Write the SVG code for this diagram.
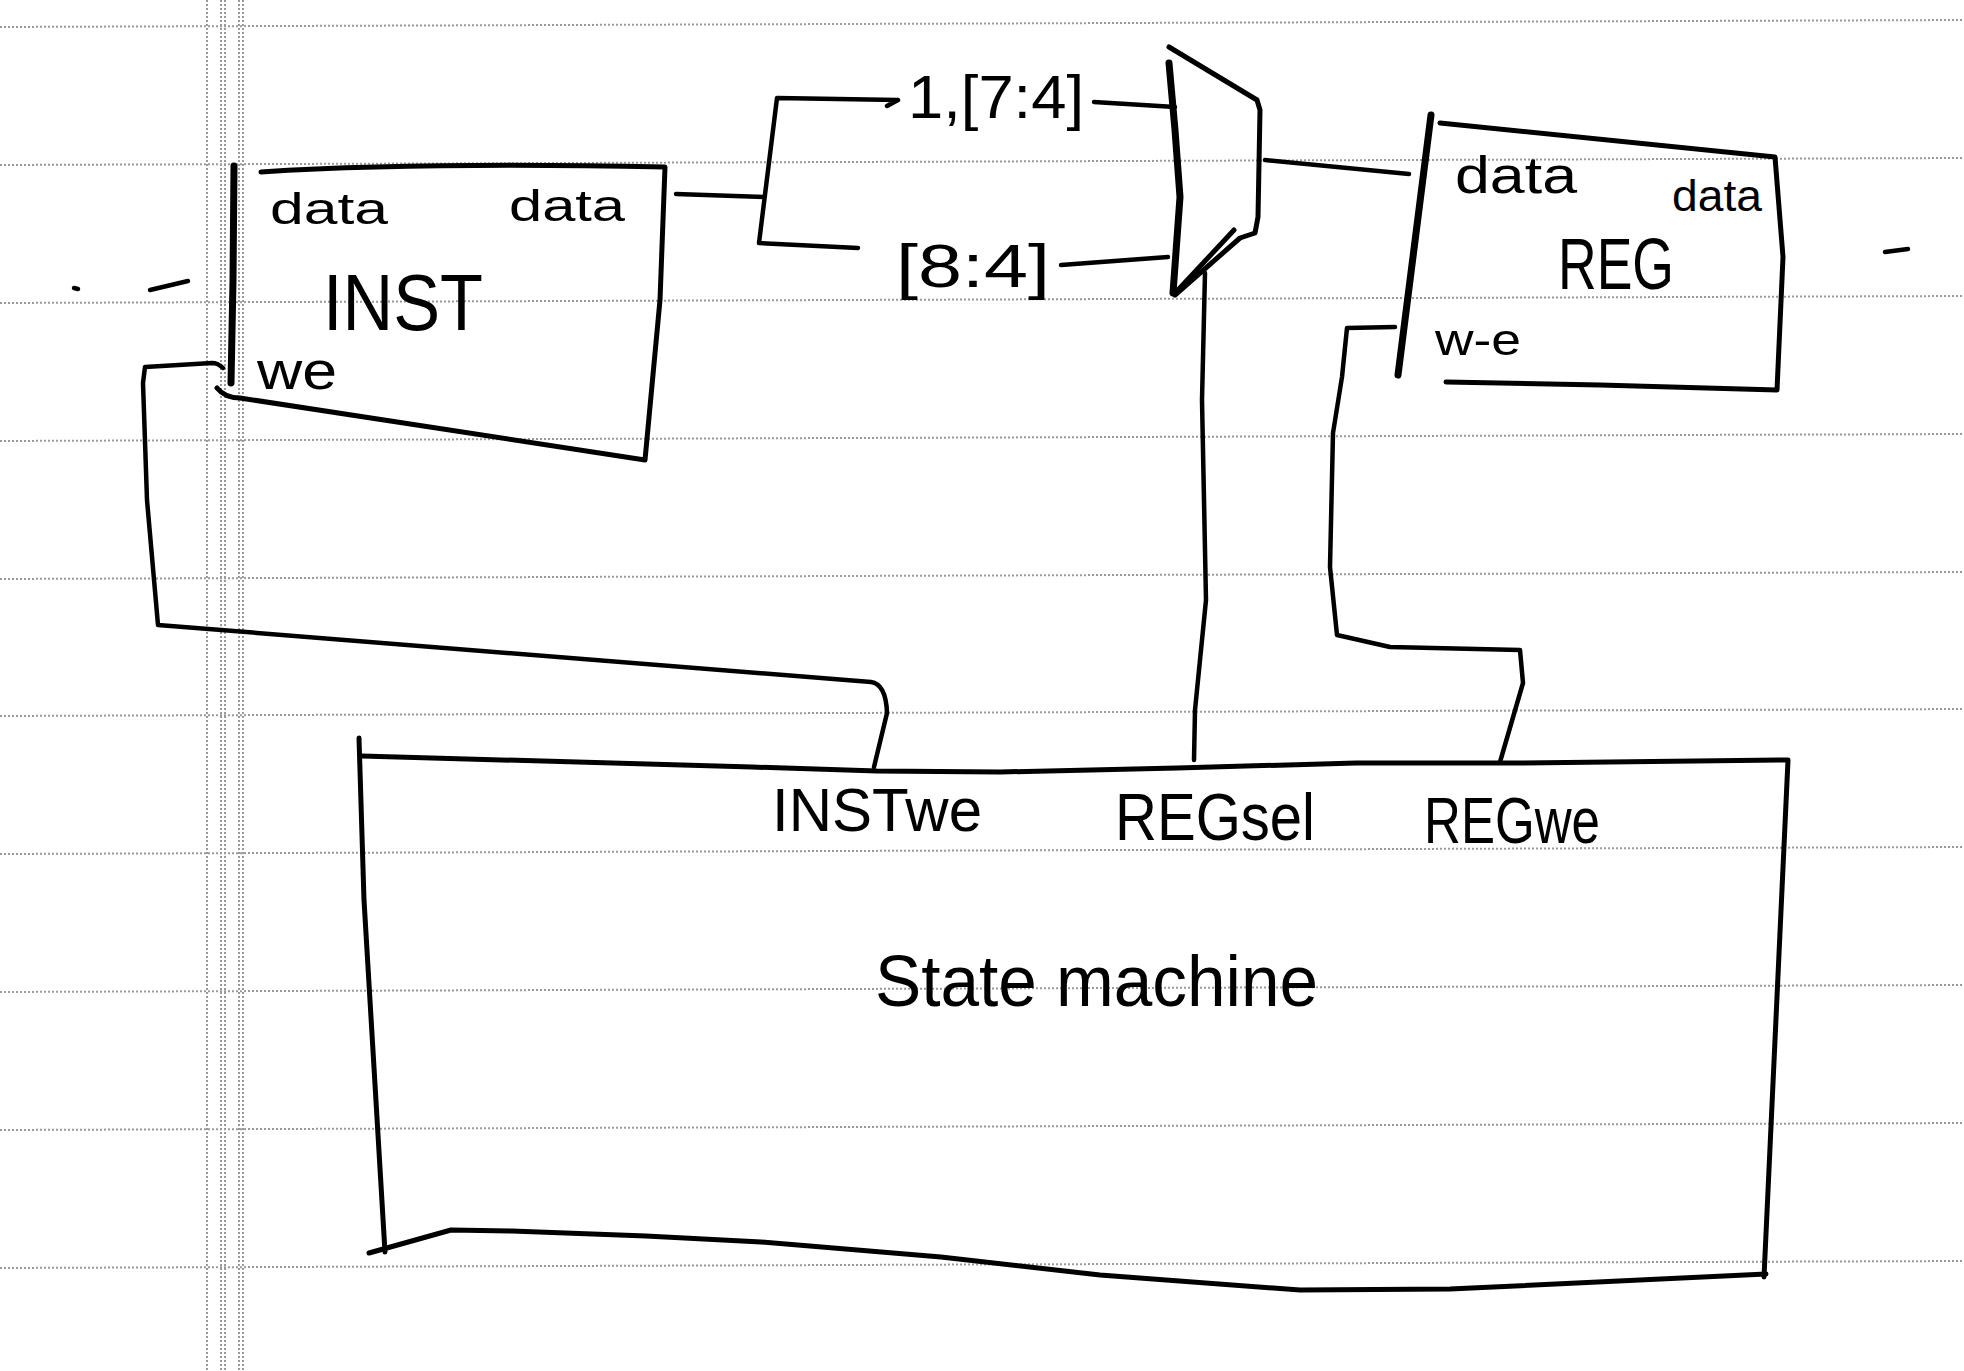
<svg xmlns="http://www.w3.org/2000/svg" width="1964" height="1371" viewBox="0 0 1964 1371">
  <style>
    .rule { stroke: #9a9a9a; stroke-width: 2; stroke-dasharray: 2 2; fill: none; }
    .ink { stroke: #000; stroke-width: 5; fill: none; stroke-linecap: round; stroke-linejoin: round; }
    .thick { stroke-width: 7; }
    .wire { stroke: #000; stroke-width: 4.5; fill: none; stroke-linecap: round; stroke-linejoin: round; }
    .hand { font-family: "Liberation Sans", "DejaVu Sans", sans-serif; fill: #000; }
  </style>
  <rect width="1964" height="1371" fill="#fff"/>

  <g id="paper">
    <line class="rule" x1="0" y1="27" x2="1964" y2="20"/>
    <line class="rule" x1="0" y1="165" x2="1964" y2="158"/>
    <line class="rule" x1="0" y1="303" x2="1964" y2="296"/>
    <line class="rule" x1="0" y1="441" x2="1964" y2="434"/>
    <line class="rule" x1="0" y1="579" x2="1964" y2="572"/>
    <line class="rule" x1="0" y1="716" x2="1964" y2="709"/>
    <line class="rule" x1="0" y1="854" x2="1964" y2="847"/>
    <line class="rule" x1="0" y1="992" x2="1964" y2="985"/>
    <line class="rule" x1="0" y1="1130" x2="1964" y2="1123"/>
    <line class="rule" x1="0" y1="1268" x2="1964" y2="1261"/>
    <line class="rule" x1="207" y1="0" x2="207" y2="1371"/>
    <line class="rule" x1="221" y1="0" x2="221" y2="1371"/>
    <line class="rule" x1="225" y1="0" x2="225" y2="1371"/>
    <line class="rule" x1="239" y1="0" x2="239" y2="1371"/>
    <line class="rule" x1="243" y1="0" x2="243" y2="1371"/>
    <path class="wire" d="M74,288 L78,289"/>
    <path class="wire" d="M150,290 L188,281"/>
    <path class="wire" d="M1885,252 L1908,249"/>
  </g>

  <g id="inst">
    <path class="ink thick" d="M234,166 L233,280 L231,383"/>
    <path class="ink" d="M261,172 Q420,162 665,167 L660,300 L645,460 L240,398 Q225,398 217,388"/>
    <text class="hand" x="270" y="224" font-size="44" textLength="118" lengthAdjust="spacingAndGlyphs">data</text>
    <text class="hand" x="509" y="221" font-size="44" textLength="116" lengthAdjust="spacingAndGlyphs">data</text>
    <text class="hand" x="323" y="330" font-size="80" textLength="160" lengthAdjust="spacingAndGlyphs">INST</text>
    <text class="hand" x="257" y="389" font-size="54" textLength="80" lengthAdjust="spacingAndGlyphs">we</text>
  </g>

  <g id="mux">
    <path class="ink thick" d="M1169,63 L1175,130 L1180,197 L1173,293"/>
    <path class="ink" d="M1169,47 L1257,100 L1260,110 L1258,217 L1255,233 L1240,238 L1175,295"/>
    <path class="ink" d="M1234,230 L1178,290" stroke-width="9"/>
  </g>

  <g id="reg">
    <path class="ink thick" d="M1431,115 L1398,375"/>
    <path class="ink" d="M1440,123 L1775,157 L1783,257 L1777,390 L1600,385 L1446,382"/>
    <text class="hand" x="1455" y="193" font-size="52" textLength="122" lengthAdjust="spacingAndGlyphs">data</text>
    <text class="hand" x="1672" y="211" font-size="44" textLength="90" lengthAdjust="spacingAndGlyphs">data</text>
    <text class="hand" x="1558" y="289" font-size="72" textLength="116" lengthAdjust="spacingAndGlyphs">REG</text>
    <text class="hand" x="1435" y="355" font-size="44" textLength="86" lengthAdjust="spacingAndGlyphs">w-e</text>
  </g>

  <g id="state-machine">
    <path class="ink" d="M359,738 L364,900 L385,1252"/>
    <path class="ink" d="M362,756 L752,767 L877,771 L1000,772 L1177,768 L1356,763 L1520,763 L1788,760 L1764,1277"/>
    <path class="ink" d="M369,1253 L451,1230 L512,1231 L646,1236 L761,1242 L941,1257 L1100,1275 L1300,1290 L1450,1289 L1766,1274"/>
    <text class="hand" x="772" y="831" font-size="62" textLength="210" lengthAdjust="spacingAndGlyphs">INSTwe</text>
    <text class="hand" x="1115" y="840" font-size="66" textLength="200" lengthAdjust="spacingAndGlyphs">REGsel</text>
    <text class="hand" x="1424" y="843" font-size="64" textLength="176" lengthAdjust="spacingAndGlyphs">REGwe</text>
    <text class="hand" x="875" y="1006" font-size="72" textLength="443" lengthAdjust="spacingAndGlyphs">State machine</text>
  </g>

  <g id="connectors">
    <path class="wire" d="M676,194 L764,197"/>
    <path class="wire" d="M887,106 L898,100 L777,98 L759,243 L858,248"/>
    <text class="hand" x="908" y="118" font-size="62" textLength="176" lengthAdjust="spacingAndGlyphs">1,[7:4]</text>
    <text class="hand" x="896" y="287" font-size="62" textLength="154" lengthAdjust="spacingAndGlyphs">[8:4]</text>
    <path class="wire" d="M1094,102 L1175,107" stroke-width="6"/>
    <path class="wire" d="M1061,265 L1168,257" stroke-width="6"/>
    <path class="wire" d="M1265,160 L1409,174"/>
    <path class="wire" d="M1205,273 L1202,400 L1206,600 L1195,710 L1194,760"/>
    <path class="wire" d="M1395,327 L1347,328 L1342,377 L1333,433 L1330,567 L1337,635 L1390,647 L1520,650 L1523,683 L1500,762"/>
    <path class="wire" d="M223,368 Q218,363 212,363 L145,367 L143,383 L147,500 L158,625 L871,682 Q886,684 887,713 L874,767"/>
  </g>
</svg>
